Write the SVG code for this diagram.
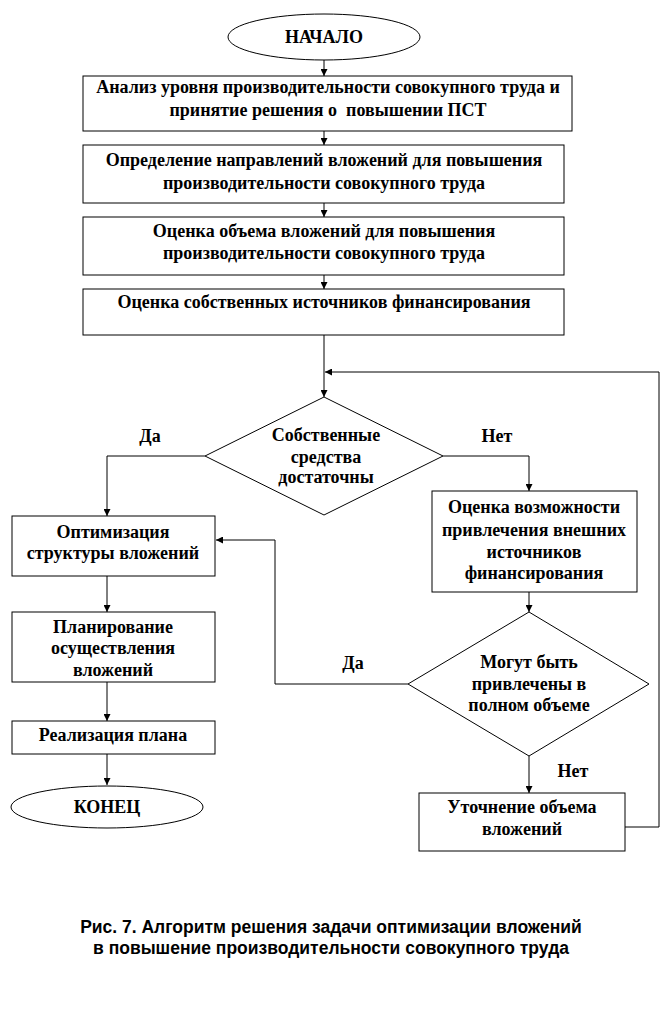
<svg xmlns="http://www.w3.org/2000/svg" width="662" height="1020" viewBox="0 0 662 1020">
<style>
.s{fill:#fff;stroke:#000;stroke-width:1}
.t{font-family:"Liberation Serif","Times New Roman",serif;font-size:18px;font-weight:bold;text-anchor:middle;fill:#000}
.c{fill:none;stroke:#000;stroke-width:1}
.cap{font-family:"Liberation Sans",Arial,sans-serif;font-size:17.5px;font-weight:bold;text-anchor:middle;fill:#000}
</style>
<defs>
<marker id="a" viewBox="0 0 10 10" refX="10" refY="5" markerWidth="7" markerHeight="7" markerUnits="userSpaceOnUse" orient="auto">
<path d="M0,0 L10,5 L0,10 z" fill="#000"/>
</marker>
</defs>
<rect width="662" height="1020" fill="#fff"/>
<g id="connectors">
<path class="c" d="M324,60 V76" marker-end="url(#a)"/>
<path class="c" d="M324,131 V145" marker-end="url(#a)"/>
<path class="c" d="M324,203 V217" marker-end="url(#a)"/>
<path class="c" d="M324,275 V289" marker-end="url(#a)"/>
<path class="c" d="M324,335 V397" marker-end="url(#a)"/>
<path class="c" d="M205,456 H107 V516" marker-end="url(#a)"/>
<path class="c" d="M443,456 H529 V491" marker-end="url(#a)"/>
<path class="c" d="M529,592 V612" marker-end="url(#a)"/>
<path class="c" d="M408,684 H275 V540 H216" marker-end="url(#a)"/>
<path class="c" d="M529,756 V793" marker-end="url(#a)"/>
<path class="c" d="M625,827 H659 V372 H325" marker-end="url(#a)"/>
<path class="c" d="M107,576 V612" marker-end="url(#a)"/>
<path class="c" d="M107,682 V721" marker-end="url(#a)"/>
<path class="c" d="M107,754 V785" marker-end="url(#a)"/>
</g>
<g id="start">
<ellipse class="s" cx="324" cy="37" rx="96" ry="23"/>
<text class="t" x="324" y="43">НАЧАЛО</text>
</g>
<g id="n1">
<rect class="s" x="83" y="76" width="489" height="55"/>
<text class="t" x="328" y="93">Анализ уровня производительности совокупного труда и</text>
<text class="t" x="328" y="116" xml:space="preserve">принятие решения о  повышении ПСТ</text>
</g>
<g id="n2">
<rect class="s" x="83" y="145" width="481" height="58"/>
<text class="t" x="324" y="166">Определение направлений вложений для повышения</text>
<text class="t" x="324" y="189">производительности совокупного труда</text>
</g>
<g id="n3">
<rect class="s" x="83" y="217" width="481" height="58"/>
<text class="t" x="324" y="237">Оценка объема вложений для повышения</text>
<text class="t" x="324" y="259">производительности совокупного труда</text>
</g>
<g id="n4">
<rect class="s" x="83" y="289" width="481" height="46"/>
<text class="t" x="324" y="308">Оценка собственных источников финансирования</text>
</g>
<g id="d1">
<polygon class="s" points="324,397 443,456 324,515 205,456"/>
<text class="t" x="326" y="441">Собственные</text>
<text class="t" x="326" y="463">средства</text>
<text class="t" x="326" y="483">достаточны</text>
</g>
<g id="labels">
<text class="t" x="150" y="442">Да</text>
<text class="t" x="497" y="442">Нет</text>
<text class="t" x="353" y="669">Да</text>
<text class="t" x="573" y="777">Нет</text>
</g>
<g id="n5">
<rect class="s" x="12" y="516" width="203" height="60"/>
<text class="t" x="113" y="538">Оптимизация</text>
<text class="t" x="113" y="559">структуры вложений</text>
</g>
<g id="n6">
<rect class="s" x="432" y="491" width="205" height="101"/>
<text class="t" x="534" y="513">Оценка возможности</text>
<text class="t" x="534" y="536">привлечения внешних</text>
<text class="t" x="534" y="558">источников</text>
<text class="t" x="534" y="579">финансирования</text>
</g>
<g id="d2">
<polygon class="s" points="529,612 649,684 529,756 408,684"/>
<text class="t" x="529" y="668">Могут быть</text>
<text class="t" x="529" y="690">привлечены в</text>
<text class="t" x="529" y="711">полном объеме</text>
</g>
<g id="n7">
<rect class="s" x="12" y="612" width="203" height="70"/>
<text class="t" x="113" y="633">Планирование</text>
<text class="t" x="113" y="654">осуществления</text>
<text class="t" x="113" y="676">вложений</text>
</g>
<g id="n8">
<rect class="s" x="12" y="721" width="203" height="33"/>
<text class="t" x="113" y="741">Реализация плана</text>
</g>
<g id="end">
<ellipse class="s" cx="107" cy="807" rx="96" ry="21"/>
<text class="t" x="107" y="813">КОНЕЦ</text>
</g>
<g id="n9">
<rect class="s" x="419" y="793" width="206" height="58"/>
<text class="t" x="522" y="813">Уточнение объема</text>
<text class="t" x="522" y="835">вложений</text>
</g>
<g id="caption">
<text class="cap" x="331" y="933">Рис. 7. Алгоритм решения задачи оптимизации вложений</text>
<text class="cap" x="331" y="954">в повышение производительности совокупного труда</text>
</g>
</svg>
